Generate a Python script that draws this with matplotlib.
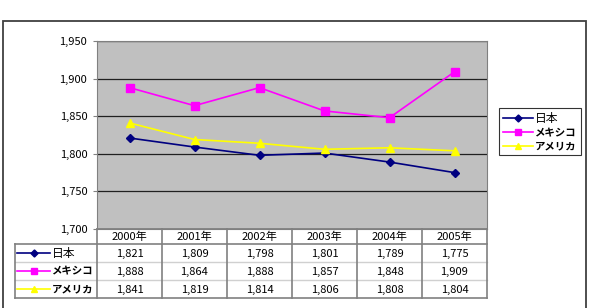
import numpy as np
import matplotlib.pyplot as plt
from matplotlib.patches import Rectangle
from matplotlib.ticker import FuncFormatter

plt.rcParams['font.family'] = ['Noto Sans CJK JP', 'DejaVu Sans']

YEARS = ["2000年", "2001年", "2002年", "2003年", "2004年", "2005年"]
SERIES = ["日本", "メキシコ", "アメリカ"]
JAPAN = [1821, 1809, 1798, 1801, 1789, 1775]
MEXICO = [1888, 1864, 1888, 1857, 1848, 1909]
USA = [1841, 1819, 1814, 1806, 1808, 1804]
YTICKS = [1700, 1750, 1800, 1850, 1900, 1950]

COLORS = {"日本": "#000080", "メキシコ": "#FF00FF", "アメリカ": "#FFFF00"}
MARKERS = {"日本": "D", "メキシコ": "s", "アメリカ": "^"}
MSIZE = {"日本": 4.2, "メキシコ": 5.5, "アメリカ": 5.8}
WEIGHTS = {"日本": "normal", "メキシコ": "bold", "アメリカ": "bold"}
LSIZE = {"日本": 8.5, "メキシコ": 7.5, "アメリカ": 7.5}

W, H = 589, 308
fig = plt.figure(figsize=(W / 100, H / 100), dpi=100)


def px_axes(x0, y0, x1, y1):
    return fig.add_axes([x0 / W, 1 - y1 / H, (x1 - x0) / W, (y1 - y0) / H])


# outer chart frame (bottom runs off the picture)
fig.patches.append(Rectangle((3 / W, -0.05), 583 / W, 1 - 21 / H + 0.05,
                             transform=fig.transFigure, fill=False,
                             edgecolor="#404040", lw=1.3))

ax = px_axes(97, 41, 487, 229)
ax.set_facecolor("#C0C0C0")
x = np.arange(len(YEARS))
data = dict(zip(SERIES, [JAPAN, MEXICO, USA]))
handles = []
for name in SERIES:
    h, = ax.plot(x, data[name], color=COLORS[name], marker=MARKERS[name],
                 ms=MSIZE[name], lw=1.2, label=name, zorder=3)
    handles.append(h)
ax.set_xlim(-0.5, len(YEARS) - 0.5)
ax.set_ylim(YTICKS[0], YTICKS[-1])
ax.set_yticks(YTICKS)
ax.yaxis.set_major_formatter(FuncFormatter(lambda v, p: f"{v:,.0f}"))
ax.grid(axis="y", color="#202020", lw=0.9)
ax.set_xticks([])
for s in ax.spines.values():
    s.set_color("#808080")
ax.tick_params(axis="y", length=3, color="#808080", labelsize=8, pad=4)

# data table below the plot
tab = px_axes(15, 229, 487, 298)
tab.set_xlim(15, 487)
tab.set_ylim(298, 229)
tab.axis("off")
rows = [229, 244, 262, 280, 298]
cols = [15, 97] + [97 + 65 * (i + 1) for i in range(len(YEARS))]
gray = "#808080"
# header row
tab.plot([97, 487], [229, 229], color=gray, lw=1.2, clip_on=False)
for i, yr in enumerate(YEARS):
    tab.text((cols[i + 1] + cols[i + 2]) / 2, (rows[0] + rows[1]) / 2 + 0.5, yr,
             ha="center", va="center", fontsize=8)
# grid
tab.plot([15, 487], [rows[1], rows[1]], color=gray, lw=1.2, clip_on=False)
tab.plot([15, 487], [rows[-1], rows[-1]], color=gray, lw=1.2, clip_on=False)
for r in rows[2:-1]:
    tab.plot([15, 487], [r, r], color="#D0D0D0", lw=1, clip_on=False)
tab.plot([15, 15], [rows[1], rows[-1]], color=gray, lw=1.2, clip_on=False)
for c in cols[1:]:
    tab.plot([c, c], [rows[0], rows[-1]], color=gray, lw=1.2, clip_on=False)

for j, name in enumerate(SERIES):
    yc = (rows[j + 1] + rows[j + 2]) / 2
    tab.plot([17, 50], [yc, yc], color=COLORS[name], lw=1.2, clip_on=False)
    tab.plot([33.5], [yc], color=COLORS[name], marker=MARKERS[name],
             ms=MSIZE[name] * 0.85, clip_on=False)
    tab.text(52, yc + 0.5, name, ha="left", va="center", fontsize=LSIZE[name],
             fontweight=WEIGHTS[name])
    for i, v in enumerate(data[name]):
        tab.text((cols[i + 1] + cols[i + 2]) / 2, yc + 0.5, f"{v:,}",
                 ha="center", va="center", fontsize=8)

leg = fig.legend(handles=handles, loc="upper left",
                 bbox_to_anchor=(499 / W, 1 - 108 / H), borderaxespad=0,
                 fontsize=8, fancybox=False, edgecolor="black",
                 handlelength=2.7, labelspacing=0.3, borderpad=0.35,
                 handletextpad=0.2, markerscale=0.85)
leg.get_frame().set_linewidth(0.8)
for t, name in zip(leg.get_texts(), SERIES):
    t.set_fontweight(WEIGHTS[name])
    t.set_fontsize(LSIZE[name])

fig.savefig("out.png", dpi=100)
